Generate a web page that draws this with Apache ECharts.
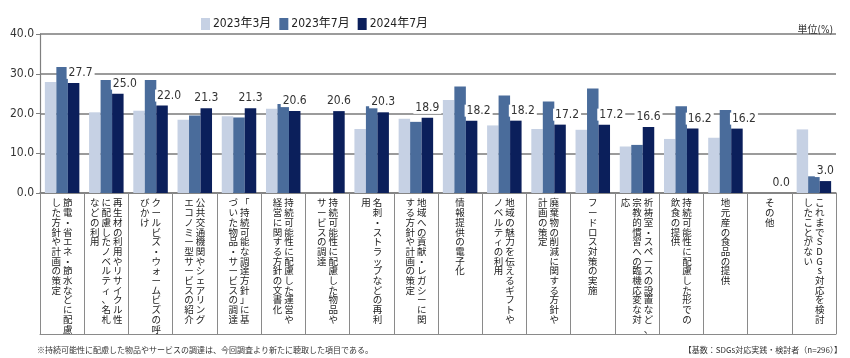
<!DOCTYPE html>
<html>
<head>
<meta charset="utf-8">
<script src="https://cdn.jsdelivr.net/npm/echarts@6/dist/echarts.min.js"></script>
<style>html,body{margin:0;padding:0;background:#fff;}#c{width:850px;height:358px;}</style>
</head>
<body>
<div id="c"></div>
<script>
// Category labels (columns of vertical text separated by \n, read right-to-left)
const categories = [
  '節電・省エネ・節水などに配慮\nした方針や計画の策定',
  '再生材の利用やリサイクル性\nに配慮したノベルティ、名札\nなどの利用',
  'クールビズ・ウォームビズの呼\nびかけ',
  '公共交通機関やシェアリング\nエコノミー型サービスの紹介',
  '「持続可能な調達方針」に基\nづいた物品・サービスの調達',
  '持続可能性に配慮した運営や\n経営に関する方針の文書化',
  '持続可能性に配慮した物品や\nサービスの調達',
  '名刺・ストラップなどの再利\n用',
  '地域への貢献・レガシーに関\nする方針や計画の策定',
  '情報提供の電子化',
  '地域の魅力を伝えるギフトや\nノベルティの利用',
  '廃棄物の削減に関する方針や\n計画の策定',
  'フードロス対策の実施',
  '祈祷室・スペースの設置など、\n宗教的慣習への臨機応変な対\n応',
  '持続可能性に配慮した形での\n飲食の提供',
  '地元産の食品の提供',
  'その他',
  'これまでSDGs対応を検討\nしたことがない'
];
const seriesNames = ['2023年3月', '2023年7月', '2024年7月'];
const values2023Mar = [27.9, 20.3, 20.7, 18.4, 19.3, 21.2, null, 16.1, 18.7, 23.4, 17.0, 16.1, 15.9, 11.7, 13.6, 13.9, 0.0, 16.0];
const values2023Jul = [31.7, 28.4, 28.4, 19.5, 19.0, 22.4, null, 21.8, 17.9, 26.8, 24.5, 23.0, 26.3, 12.1, 21.8, 20.9, 0.0, 4.2];
const values2024Jul = [27.7, 25.0, 22.0, 21.3, 21.3, 20.6, 20.6, 20.3, 18.9, 18.2, 18.2, 17.2, 17.2, 16.6, 16.2, 16.2, 0.0, 3.0];
const yTicks = [0, 10, 20, 30, 40];
const unitText = '単位(%)';
const footnoteText = '※持続可能性に配慮した物品やサービスの調達は、今回調査より新たに聴取した項目である。';
const baseText = '【基数：SDGs対応実践・検討者（n=296）】';

const colors = ['#C6D1E4', '#4A6C9B', '#0B1F5B'];
const numFont = "'Liberation Sans Narrow', 'DejaVu Sans Condensed', 'Noto Sans CJK JP', sans-serif";
const cjkFont = "'Noto Sans CJK JP', sans-serif";

function verticalLabel(text) {
  const cols = text.split('\n').map(s => Array.from(s));
  const rows = Math.max(...cols.map(c => c.length));
  const lines = [];
  for (let i = 0; i < rows; i++) {
    let line = '';
    for (let c = cols.length - 1; c >= 0; c--) {
      const ch = cols[c][i] || '　';
      line += '{c|' + ch + '}';
    }
    lines.push(line);
  }
  return lines.join('\n');
}

const navyData = values2024Jul.map((v, i) => {
  const mid = values2023Jul[i];
  const shift = (mid != null && mid - v > 3) ? 7 : 0;
  return { value: v, label: { offset: [shift, 0] } };
});

const chart = echarts.init(document.getElementById('c'), null, { renderer: 'canvas' });
chart.setOption({
  animation: false,
  backgroundColor: '#fff',
  color: colors,
  legend: {
    left: 196, top: 13,
    itemWidth: 9, itemHeight: 12, itemGap: 8,
    icon: 'rect',
    data: seriesNames,
    textStyle: { fontSize: 12, fontFamily: numFont, color: '#222', padding: [0, 0, 0, -2] }
  },
  title: [{
    text: unitText, right: 12, top: 20,
    textStyle: { fontSize: 10, fontWeight: 'normal', fontFamily: numFont, color: '#333' }
  }],
  graphic: [
    { type: 'text', left: 37, top: 346, style: { text: footnoteText, fontSize: 8, fontFamily: cjkFont, fill: '#333' } },
    { type: 'text', right: 8, top: 346, style: { text: baseText, fontSize: 8, fontFamily: cjkFont, fill: '#333' } }
  ],
  grid: { left: 40, right: 14, top: 34, bottom: 165, containLabel: false },
  xAxis: [{
    type: 'category',
    data: categories,
    axisLine: { lineStyle: { color: '#7f7f7f', width: 1.5 } },
    axisTick: { show: true, interval: 0, length: 141, lineStyle: { color: '#8a8a8a', width: 1 } },
    axisLabel: {
      interval: 0, margin: 5,
      formatter: verticalLabel,
      rich: { c: { width: 11.5, align: 'center', fontSize: 9.5, lineHeight: 9.7, fontFamily: cjkFont, color: '#222' } }
    }
  }, {
    type: 'category',
    data: categories,
    position: 'bottom',
    offset: 141,
    axisLine: { lineStyle: { color: '#8a8a8a', width: 1 } },
    axisTick: { show: false },
    axisLabel: { show: false }
  }],
  yAxis: {
    type: 'value', min: yTicks[0], max: yTicks[yTicks.length - 1], interval: 10,
    axisLine: { show: true, lineStyle: { color: '#7f7f7f', width: 1.2 } },
    axisTick: { show: true, length: 4, lineStyle: { color: '#7f7f7f' } },
    axisLabel: { formatter: v => v.toFixed(1), fontSize: 12, fontFamily: numFont, color: '#333', margin: 6 },
    splitLine: { lineStyle: { color: '#7a7a7a', width: 1.5 } }
  },
  series: [
    { name: seriesNames[0], type: 'bar', data: values2023Mar, barGap: '0%', barCategoryGap: '22%', itemStyle: { color: colors[0] } },
    { name: seriesNames[1], type: 'bar', data: values2023Jul, barGap: '0%', barCategoryGap: '22%', itemStyle: { color: colors[1] } },
    { name: seriesNames[2], type: 'bar', data: navyData, barGap: '0%', barCategoryGap: '22%', itemStyle: { color: colors[2] },
      label: { show: true, position: 'top', distance: 4, formatter: p => p.value.toFixed(1),
        fontSize: 12, fontFamily: numFont, color: '#333', backgroundColor: '#fff', padding: [0, 2] } }
  ]
});
</script>
</body>
</html>
